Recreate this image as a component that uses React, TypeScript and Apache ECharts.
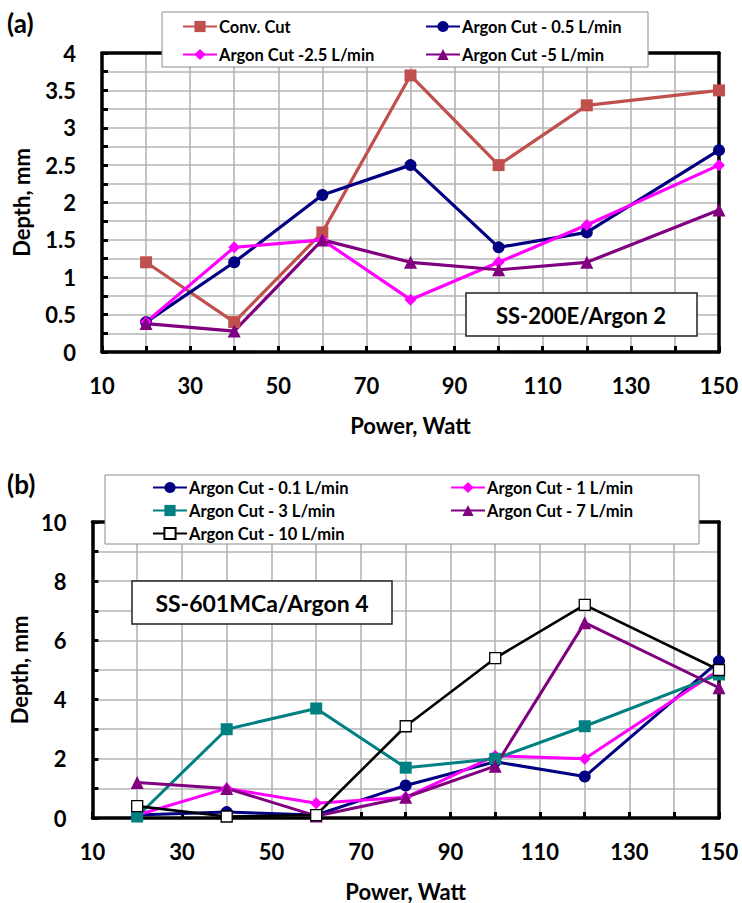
import React, { useEffect, useRef } from "react";
import * as echarts from "echarts";

const powerValues = [20, 40, 60, 80, 100, 120, 150];

// Chart (a)
const convCut = [1.2, 0.4, 1.6, 3.7, 2.5, 3.3, 3.5];
const argon05 = [0.4, 1.2, 2.1, 2.5, 1.4, 1.6, 2.7];
const argon25 = [0.4, 1.4, 1.5, 0.7, 1.2, 1.7, 2.5];
const argon5 = [0.38, 0.28, 1.5, 1.2, 1.1, 1.2, 1.9];

// Chart (b)
const argon01 = [0.1, 0.2, 0.1, 1.1, 1.9, 1.4, 5.3];
const argon1 = [0.1, 1.0, 0.5, 0.7, 2.1, 2.0, 5.0];
const argon3 = [0.05, 3.0, 3.7, 1.7, 2.0, 3.1, 4.85];
const argon7 = [1.2, 1.0, 0.07, 0.7, 1.75, 6.6, 4.4];
const argon10 = [0.4, 0.05, 0.1, 3.1, 5.4, 7.2, 5.0];

const namesA = ["Conv. Cut", "Argon Cut - 0.5 L/min", "Argon Cut -2.5 L/min", "Argon Cut -5 L/min"];
const namesB = [
  "Argon Cut - 0.1 L/min",
  "Argon Cut - 1 L/min",
  "Argon Cut - 3 L/min",
  "Argon Cut - 7 L/min",
  "Argon Cut - 10 L/min",
];

const FONT = 'Lato, "Noto Sans", sans-serif';

const pairs = (ys: number[]) => powerValues.map((x, i) => [x, ys[i]]);

function xAxes(grid: number) {
  return [
    {
      gridIndex: grid,
      type: "value",
      min: 10,
      max: 150,
      interval: 10,
      position: "bottom",
      axisLine: { show: true, onZero: false, lineStyle: { color: "#000", width: 3.5 } },
      axisTick: { show: true, inside: true, length: 6, lineStyle: { color: "#000", width: 3 } },
      axisLabel: {
        margin: 22,
        color: "#000",
        fontFamily: FONT,
        fontWeight: "bold",
        fontSize: 22,
        formatter: (v: number) => ((v - 10) % 20 === 0 ? String(v) : ""),
      },
      splitLine: { show: true, lineStyle: { color: "#b5b5b5", width: 1.6 } },
      name: "Power, Watt",
      nameLocation: "middle",
      nameGap: 62,
      nameTextStyle: { color: "#000", fontFamily: FONT, fontWeight: "bold", fontSize: 22 },
    },
    {
      gridIndex: grid,
      type: "value",
      min: 10,
      max: 150,
      interval: 10,
      position: "top",
      axisLine: { show: true, onZero: false, lineStyle: { color: "#000", width: 3.5 } },
      axisTick: { show: false },
      axisLabel: { show: false },
      splitLine: { show: false },
    },
  ];
}

function yAxes(grid: number, max: number, interval: number, labelStep: number, nameGap: number) {
  return [
    {
      gridIndex: grid,
      type: "value",
      min: 0,
      max,
      interval,
      position: "left",
      axisLine: { show: true, onZero: false, lineStyle: { color: "#000", width: 3.5 } },
      axisTick: { show: true, inside: true, length: 6, lineStyle: { color: "#000", width: 3 } },
      axisLabel: {
        margin: 26,
        color: "#000",
        fontFamily: FONT,
        fontWeight: "bold",
        fontSize: 22,
        formatter: (v: number) => {
          const r = v / labelStep;
          return Math.abs(r - Math.round(r)) < 1e-6 ? String(v) : "";
        },
      },
      splitLine: { show: true, lineStyle: { color: "#b5b5b5", width: 1.6 } },
      name: "Depth, mm",
      nameLocation: "middle",
      nameGap,
      nameTextStyle: { color: "#000", fontFamily: FONT, fontWeight: "bold", fontSize: 22 },
    },
    {
      gridIndex: grid,
      type: "value",
      min: 0,
      max,
      interval,
      position: "right",
      axisLine: { show: true, onZero: false, lineStyle: { color: "#000", width: 3.5 } },
      axisTick: { show: false },
      axisLabel: { show: false },
      splitLine: { show: false },
    },
  ];
}

function lineSeries(
  name: string,
  ys: number[],
  grid: number,
  color: string,
  symbol: string,
  symbolSize: number,
  width: number,
  fill?: string
) {
  return {
    name,
    type: "line",
    xAxisIndex: grid * 2,
    yAxisIndex: grid * 2,
    data: pairs(ys),
    symbol,
    symbolSize,
    showSymbol: true,
    lineStyle: { color, width },
    itemStyle: fill
      ? { color: fill, borderColor: color, borderWidth: 1.3 }
      : { color, borderColor: color, borderWidth: 0 },
    emphasis: { disabled: true },
  };
}

function legendItem(name: string, left: number, cy: number) {
  return {
    data: [name],
    left,
    top: cy - 7,
    itemWidth: 34,
    itemHeight: 14,
    itemGap: 0,
    padding: 0,
    selectedMode: false,
    z: 10,
    textStyle: { color: "#000", fontFamily: FONT, fontWeight: "bold", fontSize: 16.5, padding: [0, 0, 0, -3] },
  };
}

export default function App() {
  const ref = useRef<HTMLDivElement>(null);
  useEffect(() => {
    if (!ref.current) return;
    const chart = echarts.init(ref.current, null, { renderer: "svg" });
    const option = {
      animation: false,
      backgroundColor: "#fff",
      grid: [
        { left: 102, top: 53, width: 617, height: 299, containLabel: false },
        { left: 92, top: 522, width: 627, height: 300, containLabel: false },
      ],
      xAxis: [...xAxes(0), ...xAxes(1)],
      yAxis: [...yAxes(0, 4, 0.25, 0.5, 70), ...yAxes(1, 10, 1, 2, 62)],
      legend: [
        legendItem(namesA[0], 182, 25),
        legendItem(namesA[1], 425, 25),
        legendItem(namesA[2], 182, 53),
        legendItem(namesA[3], 425, 53),
        legendItem(namesB[0], 152, 486),
        legendItem(namesB[1], 450, 486),
        legendItem(namesB[2], 152, 509),
        legendItem(namesB[3], 450, 509),
        legendItem(namesB[4], 152, 532),
      ],
      series: [
        lineSeries(namesA[0], convCut, 0, "#C0504D", "rect", 12, 3.2),
        lineSeries(namesA[1], argon05, 0, "#000080", "circle", 12, 3.2),
        lineSeries(namesA[2], argon25, 0, "#FF00FF", "diamond", 12, 3.2),
        lineSeries(namesA[3], argon5, 0, "#800080", "triangle", 13, 3.2),
        lineSeries(namesB[0], argon01, 1, "#000080", "circle", 12, 3),
        lineSeries(namesB[1], argon1, 1, "#FF00FF", "diamond", 12, 3),
        lineSeries(namesB[2], argon3, 1, "#008080", "rect", 12, 3),
        lineSeries(namesB[3], argon7, 1, "#800080", "triangle", 13, 3),
        lineSeries(namesB[4], argon10, 1, "#000000", "rect", 11, 2.6, "#ffffff"),
      ],
      graphic: [
        {
          type: "rect",
          z: 5,
          shape: { x: 162, y: 12, width: 486, height: 55 },
          style: { fill: "#fff", stroke: "#8c8c8c", lineWidth: 1 },
        },
        {
          type: "rect",
          z: 5,
          shape: { x: 105, y: 475, width: 594, height: 69 },
          style: { fill: "#fff", stroke: "#8c8c8c", lineWidth: 1 },
        },
        {
          type: "rect",
          z: 5,
          shape: { x: 466, y: 293, width: 231, height: 43 },
          style: { fill: "#fff", stroke: "#222", lineWidth: 1.5 },
        },
        {
          type: "text",
          z: 6,
          x: 581,
          y: 315,
          style: {
            text: "SS-200E/Argon 2",
            fill: "#000",
            font: `bold 22px ${FONT}`,
            align: "center",
            verticalAlign: "middle",
          },
        },
        {
          type: "rect",
          z: 5,
          shape: { x: 132, y: 581, width: 260, height: 43 },
          style: { fill: "#fff", stroke: "#222", lineWidth: 1.5 },
        },
        {
          type: "text",
          z: 6,
          x: 262,
          y: 603,
          style: {
            text: "SS-601MCa/Argon 4",
            fill: "#000",
            font: `bold 23px ${FONT}`,
            align: "center",
            verticalAlign: "middle",
          },
        },
        {
          type: "text",
          z: 6,
          x: 7,
          y: 23,
          style: { text: "(a)", fill: "#000", font: `bold 26px ${FONT}`, verticalAlign: "middle" },
        },
        {
          type: "text",
          z: 6,
          x: 7,
          y: 484,
          style: { text: "(b)", fill: "#000", font: `bold 26px ${FONT}`, verticalAlign: "middle" },
        },
      ],
    };
    chart.setOption(option as any);
    return () => chart.dispose();
  }, []);
  return (
    <div
      ref={ref}
      style={{ position: "absolute", left: 0, top: 0, width: 742, height: 903, background: "#fff" }}
    />
  );
}
